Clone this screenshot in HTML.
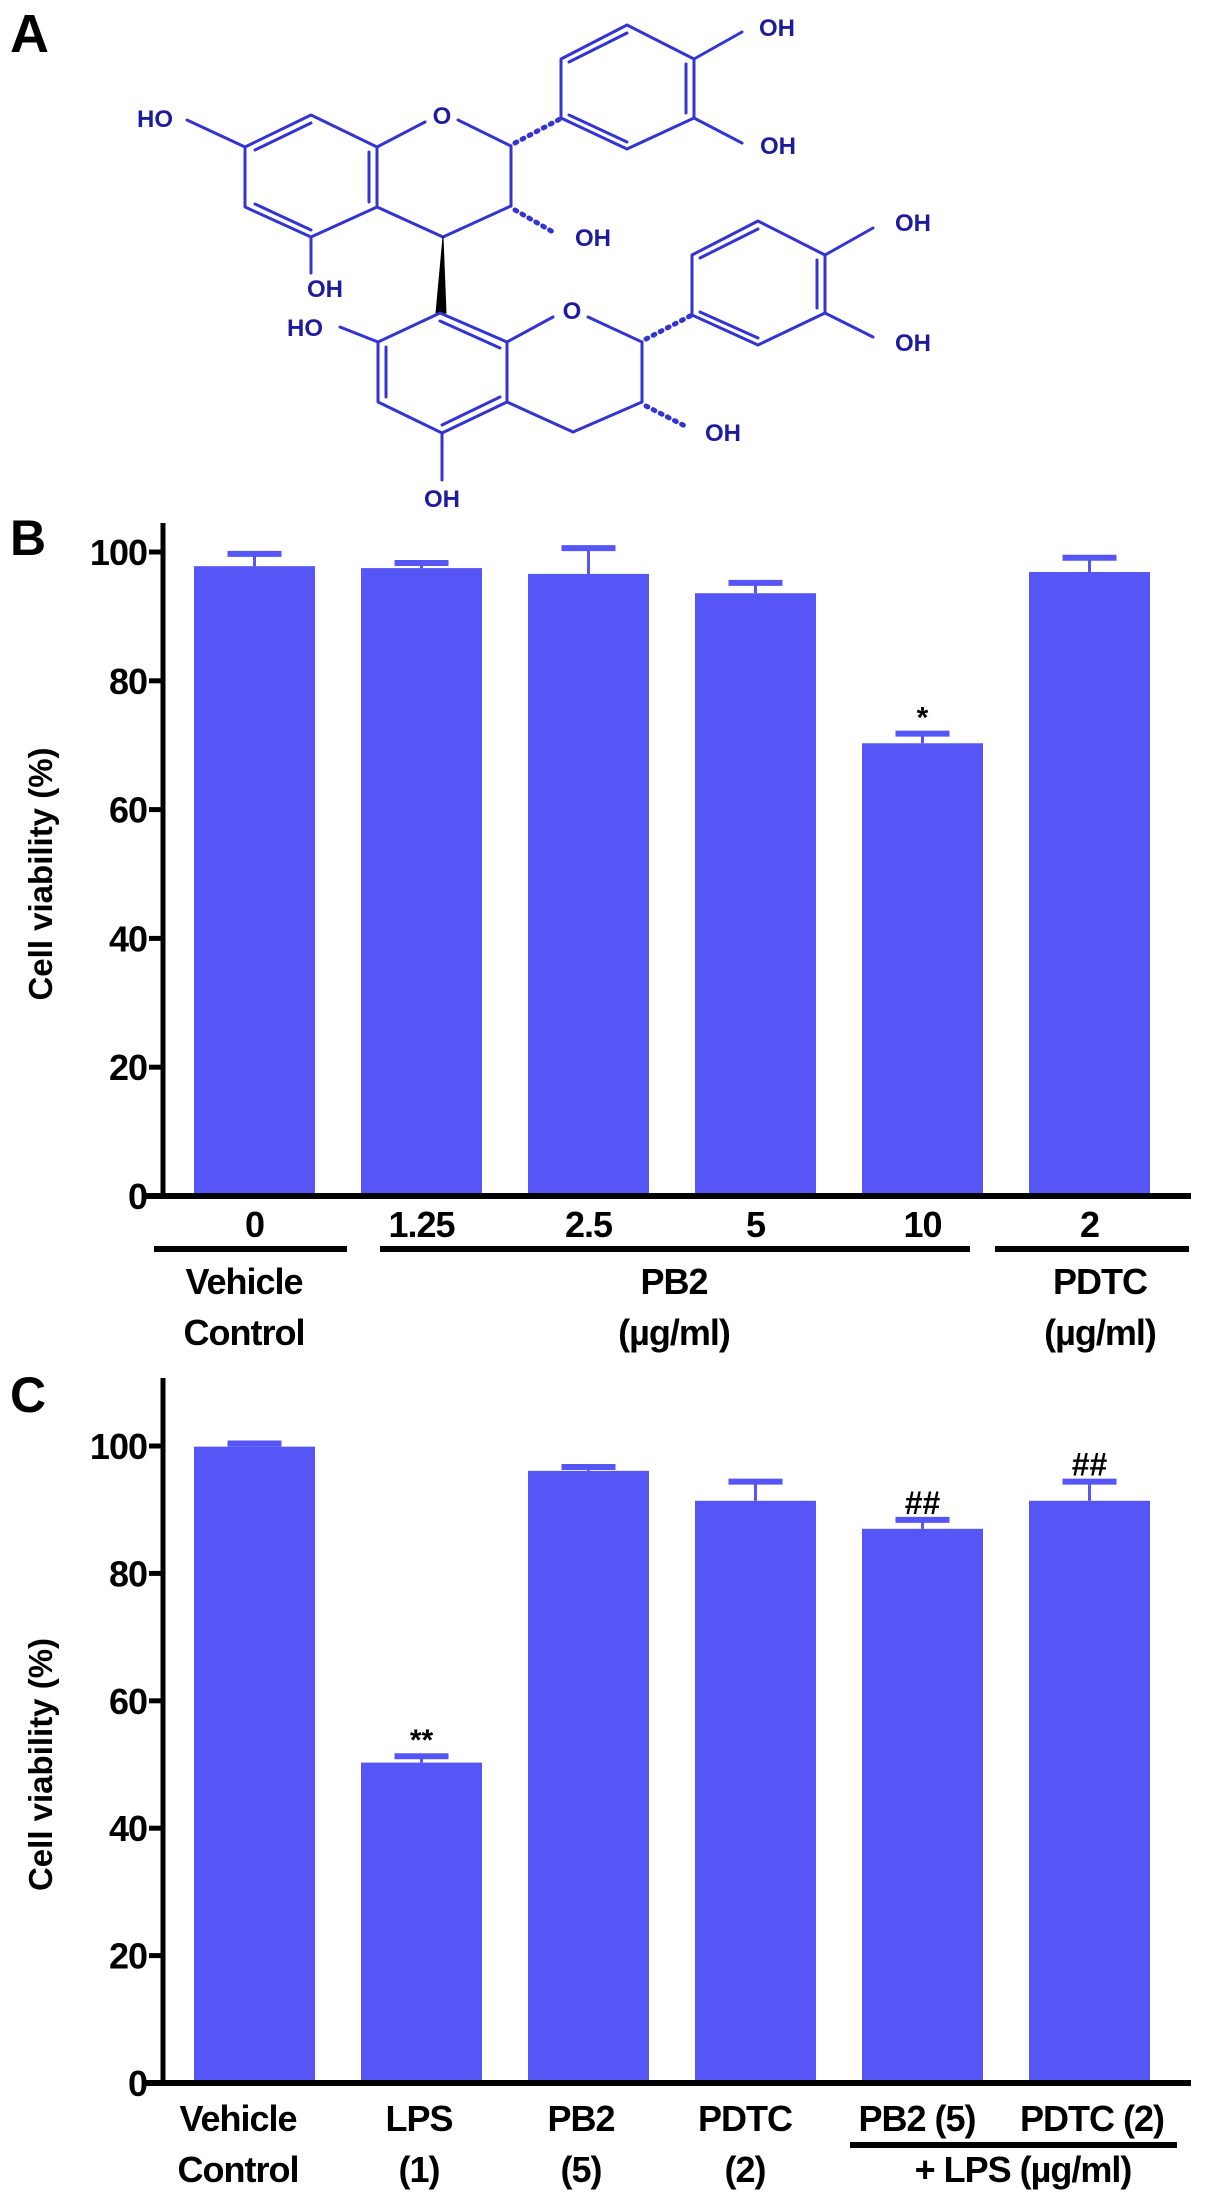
<!DOCTYPE html>
<html><head><meta charset="utf-8"><style>
html,body{margin:0;padding:0;background:#fff;}
svg{display:block;}
text{font-family:"Liberation Sans",Arial,sans-serif;font-weight:bold;}
.mol line,.mol polyline,.mol polygon{stroke:#3434d0;stroke-width:3;fill:none;stroke-linecap:round;stroke-linejoin:round;}
.mol text{fill:#1c1c9c;font-size:24px;}
.tk{font-size:36px;fill:#000;letter-spacing:-1px;}
</style></head><body>
<svg id="fig" width="1205" height="2205" viewBox="0 0 1205 2205">
<text x="10" y="52" font-size="54">A</text>
<g class="mol">
 <!-- ring A -->
 <polyline points="245,147 311,115 377,147 377,207 311,237 245,207 245,147"/>
 <line x1="255" y1="150" x2="311" y2="123"/><line x1="369" y1="152" x2="369" y2="202"/><line x1="255" y1="204" x2="311" y2="230"/>
 <line x1="187" y1="120" x2="245" y2="147"/><text x="155" y="127" text-anchor="middle">HO</text>
 <line x1="377" y1="147" x2="425" y2="122"/><text x="442" y="124" text-anchor="middle">O</text>
 <line x1="458" y1="120" x2="511" y2="146"/><line x1="511" y1="146" x2="511" y2="206"/>
 <line x1="511" y1="206" x2="443" y2="237"/><line x1="443" y1="237" x2="377" y2="207"/>
 <line x1="311" y1="237" x2="311" y2="273"/><text x="325" y="297" text-anchor="middle">OH</text>
 <g stroke-dasharray="2,6"><line x1="515" y1="143" x2="560" y2="119" style="stroke-width:5"/><line x1="515" y1="210" x2="553" y2="232" style="stroke-width:5"/><line x1="646" y1="339" x2="692" y2="315" style="stroke-width:5"/><line x1="646" y1="406" x2="687" y2="427" style="stroke-width:5"/></g>
 <text x="593" y="246" text-anchor="middle">OH</text>
 <polygon points="443,237 436,313 446,313" style="fill:#000;stroke:#000;stroke-width:1"/>
 <!-- ring B -->
 <polyline points="561,118 561,59 627,25 694,59 694,118 627,149 561,118"/>
 <line x1="569" y1="62" x2="627" y2="33"/><line x1="686" y1="64" x2="686" y2="113"/><line x1="569" y1="115" x2="627" y2="142"/>
 <line x1="694" y1="59" x2="742" y2="32"/><text x="777" y="36" text-anchor="middle">OH</text>
 <line x1="694" y1="118" x2="742" y2="143"/><text x="778" y="154" text-anchor="middle">OH</text>
 <!-- ring D -->
 <polyline points="440,313 378,342 378,402 442,433 507,402 507,342 440,313"/>
 <line x1="440" y1="321" x2="500" y2="348"/><line x1="386" y1="347" x2="386" y2="397"/><line x1="442" y1="425" x2="500" y2="397"/>
 <line x1="340" y1="327" x2="378" y2="342"/><text x="305" y="336" text-anchor="middle">HO</text>
 <line x1="442" y1="433" x2="442" y2="480"/><text x="442" y="507" text-anchor="middle">OH</text>
 <line x1="507" y1="342" x2="553" y2="317"/><text x="572" y="319" text-anchor="middle">O</text>
 <line x1="588" y1="317" x2="642" y2="342"/><line x1="642" y1="342" x2="642" y2="402"/>
 <line x1="642" y1="402" x2="573" y2="432"/><line x1="573" y1="432" x2="507" y2="402"/>
 <text x="723" y="441" text-anchor="middle">OH</text>
 <!-- ring E -->
 <polyline points="692,315 692,255 758,221 825,255 825,313 758,345 692,315"/>
 <line x1="700" y1="258" x2="758" y2="229"/><line x1="817" y1="260" x2="817" y2="308"/><line x1="700" y1="312" x2="758" y2="338"/>
 <line x1="825" y1="255" x2="873" y2="228"/><text x="913" y="231" text-anchor="middle">OH</text>
 <line x1="825" y1="313" x2="873" y2="337"/><text x="913" y="351" text-anchor="middle">OH</text>
</g>
<g id="chartB"></g>
<g id="chartC"></g>
</svg>
<script>
const bValues=[97.8,97.5,96.6,93.6,70.3,96.9];
const bErr=[1.9,0.8,4.0,1.6,1.5,2.2];
const bTickLabels=["0","1.25","2.5","5","10","2"];
const bSig=["","","","","*",""];
const cValues=[99.9,50.3,96.1,91.4,87.0,91.4];
const cErr=[0.5,1.0,0.6,3.0,1.4,3.0];
const cLine1=["Vehicle","LPS","PB2","PDTC","PB2 (5)","PDTC (2)"];
const cLine2=["Control","(1)","(5)","(2)","",""];
const cSig=["","**","","","##","##"];
const yTicks=[0,20,40,60,80,100];
const NS="http://www.w3.org/2000/svg";
function mk(p,tag,a,txt){const e=document.createElementNS(NS,tag);for(const k in a)e.setAttribute(k,a[k]);if(txt!==undefined)e.textContent=txt;p.appendChild(e);return e;}
const BAR="#5656f6";
function chart(g,o){
 const y=v=>o.y0-v*o.step; const x0=194,pitch=167, bw=121;
 const bx=i=>x0+i*pitch;
 // axes
 let e=mk(g,'line',{x1:163,y1:o.top,x2:163,y2:o.y0+2,stroke:'#000','stroke-width':5});
 
 yTicks.forEach(t=>{
  let l=mk(g,'line',{x1:149,y1:y(t),x2:163,y2:y(t),stroke:'#000','stroke-width':5});
  
  let tx=mk(g,'text',{x:147,y:y(t)+13,'text-anchor':'end',class:'tk'},String(t));
  
 });
 let yt=mk(g,'text',{x:0,y:0,'font-size':33,transform:`translate(52,${(o.y0+y(100))/2}) rotate(-90)`,'text-anchor':'middle'},'Cell viability (%)');
 
 o.vals.forEach((v,i)=>{
  const cx=bx(i)+bw/2;
  let r=mk(g,'rect',{x:bx(i),y:y(v),width:bw,height:o.y0-y(v),fill:BAR});
  
  let s=mk(g,'line',{x1:cx,y1:y(v),x2:cx,y2:y(v+o.err[i]),stroke:BAR,'stroke-width':3});
  
  let c=mk(g,'line',{x1:cx-27,y1:y(v+o.err[i]),x2:cx+27,y2:y(v+o.err[i]),stroke:BAR,'stroke-width':6});
  
  if(o.sig[i]){let t=mk(g,'text',{x:cx,y:y(v+o.err[i])-6,'text-anchor':'middle','font-size':o.sig[i][0]=='#'?32:30,'font-weight':'normal'},o.sig[i]);
   }
 });
 let xa=mk(g,'line',{x1:146,y1:o.y0,x2:1191,y2:o.y0,stroke:'#000','stroke-width':6});
 
 return {bx,bw};
}
const gB=document.getElementById('chartB');
let lb=mk(gB,'text',{x:10,y:555,'font-size':50},'B');

const rb=chart(gB,{y0:1196,step:6.44,top:523,vals:bValues,err:bErr,sig:bSig});
bTickLabels.forEach((t,i)=>{let e=mk(gB,'text',{x:rb.bx(i)+rb.bw/2,y:1237,'text-anchor':'middle',class:'tk'},t);
 });
[[154,347],[380,970],[995,1189]].forEach(s=>{let e=mk(gB,'line',{x1:s[0],y1:1249,x2:s[1],y2:1249,stroke:'#000','stroke-width':6});
 });
[["Vehicle","Control",244],["PB2","(µg/ml)",674],["PDTC","(µg/ml)",1100]].forEach(g=>{
 let a=mk(gB,'text',{x:g[2],y:1294,'text-anchor':'middle',class:'tk'},g[0]);
 
 let b=mk(gB,'text',{x:g[2],y:1345,'text-anchor':'middle',class:'tk'},g[1]);
 });
const gC=document.getElementById('chartC');
let lc=mk(gC,'text',{x:10,y:1412,'font-size':50},'C');

const rc=chart(gC,{y0:2083,step:6.37,top:1378,vals:cValues,err:cErr,sig:cSig});
const cx2=[238,419,581,745,917,1092];
cLine1.forEach((t,i)=>{let e=mk(gC,'text',{x:cx2[i],y:2131,'text-anchor':'middle',class:'tk'},t);
 
 if(cLine2[i]){let f=mk(gC,'text',{x:cx2[i],y:2182,'text-anchor':'middle',class:'tk'},cLine2[i]);
 }});
let ul=mk(gC,'line',{x1:850,y1:2145,x2:1177,y2:2145,stroke:'#000','stroke-width':6});

let lp=mk(gC,'text',{x:1023,y:2182,'text-anchor':'middle',class:'tk'},'+ LPS (µg/ml)');

</script>
</body></html>
